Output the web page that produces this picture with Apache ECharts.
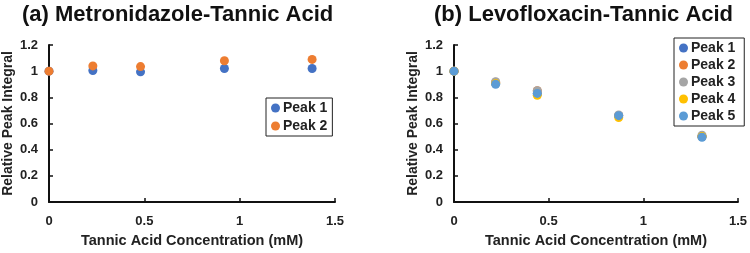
<!DOCTYPE html>
<html>
<head>
<meta charset="utf-8">
<script src="https://cdn.jsdelivr.net/npm/echarts@6/dist/echarts.min.js"></script>
<style>
html, body { margin: 0; padding: 0; background: #fff; }
#chart { width: 750px; height: 253px; }
</style>
</head>
<body>
<div id="chart"></div>
<script>
// (a) Metronidazole-Tannic Acid
var concA = [0, 0.23, 0.48, 0.92, 1.38];
var peakA1 = [1.0, 1.005, 0.995, 1.02, 1.02];
var peakA2 = [1.0, 1.04, 1.035, 1.08, 1.09];

// (b) Levofloxacin-Tannic Acid
var concB = [0, 0.22, 0.44, 0.87, 1.31];
var peakB1 = [1.0, 0.905, 0.83, 0.66, 0.50];
var peakB2 = [1.0, 0.915, 0.85, 0.66, 0.50];
var peakB3 = [1.0, 0.92, 0.85, 0.665, 0.51];
var peakB4 = [1.0, 0.905, 0.815, 0.645, 0.50];
var peakB5 = [1.0, 0.90, 0.83, 0.66, 0.495];

var xTicks = [0, 0.5, 1, 1.5];
var yTicks = [0, 0.2, 0.4, 0.6, 0.8, 1, 1.2];

var colors = ['#4472C4', '#ED7D31', '#A5A5A5', '#FFC000', '#5B9BD5'];
var font = 'Liberation Sans, Arial, sans-serif';

function pairs(xs, ys) {
    var out = [];
    for (var i = 0; i < xs.length; i++) out.push([xs[i], ys[i]]);
    return out;
}

function xAxisOf(idx) {
    return {
        type: 'value', gridIndex: idx, min: xTicks[0], max: xTicks[xTicks.length - 1], interval: 0.5,
        name: 'Tannic Acid Concentration (mM)', nameLocation: 'middle', nameGap: 31,
        nameTextStyle: { color: '#222', fontWeight: 'bold', fontSize: 14.5, fontFamily: font },
        axisLine: { show: true, lineStyle: { color: '#111', width: 2 } },
        axisTick: { show: true, inside: true, length: 4, lineStyle: { color: '#111', width: 1.5 } },
        axisLabel: { color: '#222', fontWeight: 'bold', fontSize: 13, fontFamily: font, margin: 13 },
        splitLine: { show: false }
    };
}

function yAxisOf(idx) {
    return {
        type: 'value', gridIndex: idx, min: yTicks[0], max: yTicks[yTicks.length - 1], interval: 0.2,
        name: 'Relative Peak Integral', nameLocation: 'middle', nameGap: 34,
        nameTextStyle: { color: '#222', fontWeight: 'bold', fontSize: 14, fontFamily: font },
        axisLine: { show: true, lineStyle: { color: '#111', width: 2 } },
        axisTick: { show: true, inside: true, length: 4, lineStyle: { color: '#111', width: 1.5 } },
        axisLabel: { color: '#222', fontWeight: 'bold', fontSize: 13, fontFamily: font, margin: 11 },
        splitLine: { show: false }
    };
}

function scatter(name, idx, data, color) {
    return {
        name: name, type: 'scatter', xAxisIndex: idx, yAxisIndex: idx,
        data: data, symbolSize: 9, itemStyle: { color: color, opacity: 1 }
    };
}

var legendStyle = {
    orient: 'vertical', icon: 'circle', itemWidth: 9, itemHeight: 9, itemGap: 4,
    borderColor: '#222', borderWidth: 1, borderRadius: 0, padding: [3, 5, 3, 5],
    backgroundColor: '#fff',
    textStyle: { color: '#222', fontWeight: 'bold', fontSize: 14, fontFamily: font, padding: [0, 0, 0, -2] }
};

var chart = echarts.init(document.getElementById('chart'));
var option = {
    animation: false,
    backgroundColor: '#fff',
    title: [
        { text: '(a) Metronidazole-Tannic Acid', left: 17, top: -1,
          textStyle: { color: '#111', fontWeight: 'bold', fontSize: 22, fontFamily: font } },
        { text: '(b) Levofloxacin-Tannic Acid', left: 429, top: -1,
          textStyle: { color: '#111', fontWeight: 'bold', fontSize: 22, fontFamily: font } }
    ],
    legend: [
        Object.assign({}, legendStyle, { left: 266, top: 98, data: ['Peak 1', 'Peak 2'] }),
        Object.assign({}, legendStyle, { left: 674, top: 38, itemGap: 3,
            data: ['Peak 1 ', 'Peak 2 ', 'Peak 3', 'Peak 4', 'Peak 5'] })
    ],
    grid: [
        { left: 49, right: 415, top: 45, bottom: 46 },
        { left: 454, right: 9, top: 45, bottom: 46 }
    ],
    xAxis: [xAxisOf(0), xAxisOf(1)],
    yAxis: [yAxisOf(0), yAxisOf(1)],
    series: [
        scatter('Peak 1', 0, pairs(concA, peakA1), colors[0]),
        scatter('Peak 2', 0, pairs(concA, peakA2), colors[1]),
        scatter('Peak 1 ', 1, pairs(concB, peakB1), colors[0]),
        scatter('Peak 2 ', 1, pairs(concB, peakB2), colors[1]),
        scatter('Peak 3', 1, pairs(concB, peakB3), colors[2]),
        scatter('Peak 4', 1, pairs(concB, peakB4), colors[3]),
        scatter('Peak 5', 1, pairs(concB, peakB5), colors[4])
    ]
};
chart.setOption(option);
</script>
</body>
</html>
